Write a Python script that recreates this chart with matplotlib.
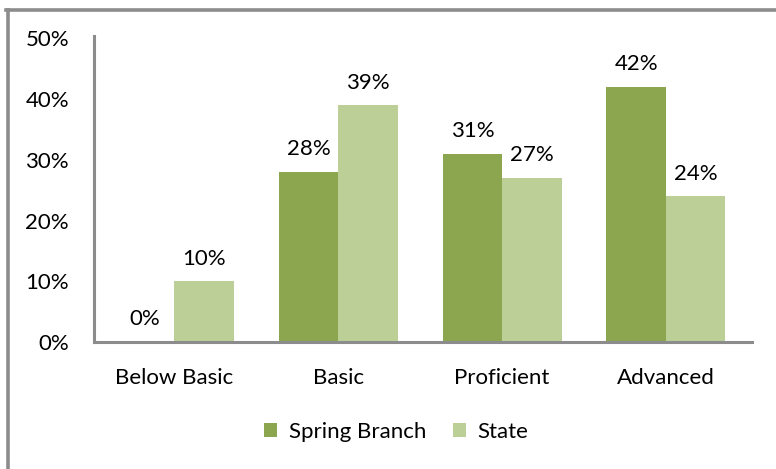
import matplotlib.pyplot as plt
from matplotlib.lines import Line2D
import numpy as np

categories = ["Below Basic", "Basic", "Proficient", "Advanced"]
spring_branch = [0, 28, 31, 42]
state = [10, 39, 27, 24]
series_names = ["Spring Branch", "State"]
y_ticks = [0, 10, 20, 30, 40, 50]

DARK = "#8BA64F"
LIGHT = "#BBCF97"
GRAY = "#8C8C8C"
FS = 16

plt.rcParams["font.family"] = ["Lato", "DejaVu Sans"]

fig = plt.figure(figsize=(7.76, 4.69), dpi=100)
ax = fig.add_axes([94 / 776, 1 - 342 / 469, (752 - 94) / 776, (342 - 36) / 469])

x = np.arange(len(categories))
w = 0.363
b1 = ax.bar(x - w / 2, spring_branch, w, color=DARK, label=series_names[0])
b2 = ax.bar(x + w / 2, state, w, color=LIGHT, label=series_names[1])

for bars, vals in ((b1, spring_branch), (b2, state)):
    for r, v in zip(bars, vals):
        ax.annotate(f"{v}%", (r.get_x() + r.get_width() / 2, v),
                    xytext=(0, 12), textcoords="offset points",
                    ha="center", va="baseline", fontsize=FS)

ax.set_xlim(-0.49, 3.525)
ax.set_ylim(0, 50.4)
ax.set_xticks(x)
ax.set_xticklabels(categories, fontsize=FS)
ax.set_yticks(y_ticks)
ax.set_yticklabels([f"{t}%" for t in y_ticks], fontsize=FS)
ax.tick_params(length=0)
ax.tick_params(axis="y", pad=18)
ax.tick_params(axis="x", pad=18.5)

for s in ("top", "right"):
    ax.spines[s].set_visible(False)
for s in ("left", "bottom"):
    ax.spines[s].set_color(GRAY)
    ax.spines[s].set_linewidth(2.2)

fig.legend(loc="center", bbox_to_anchor=(396 / 776, 1 - 432 / 469), ncol=2,
           frameon=False, fontsize=FS, handlelength=0.6, handleheight=0.6,
           handletextpad=0.5, columnspacing=1.2)

# outer chart border (only left and top edges are in frame)
fig.add_artist(Line2D([7.5 / 776, 7.5 / 776], [0, 1 - 10.5 / 469],
                      transform=fig.transFigure, color=GRAY, lw=2.6))
fig.add_artist(Line2D([6.3 / 776, 1], [1 - 10.5 / 469, 1 - 10.5 / 469],
                      transform=fig.transFigure, color=GRAY, lw=2.6))

fig.savefig("out.png", dpi=100)
